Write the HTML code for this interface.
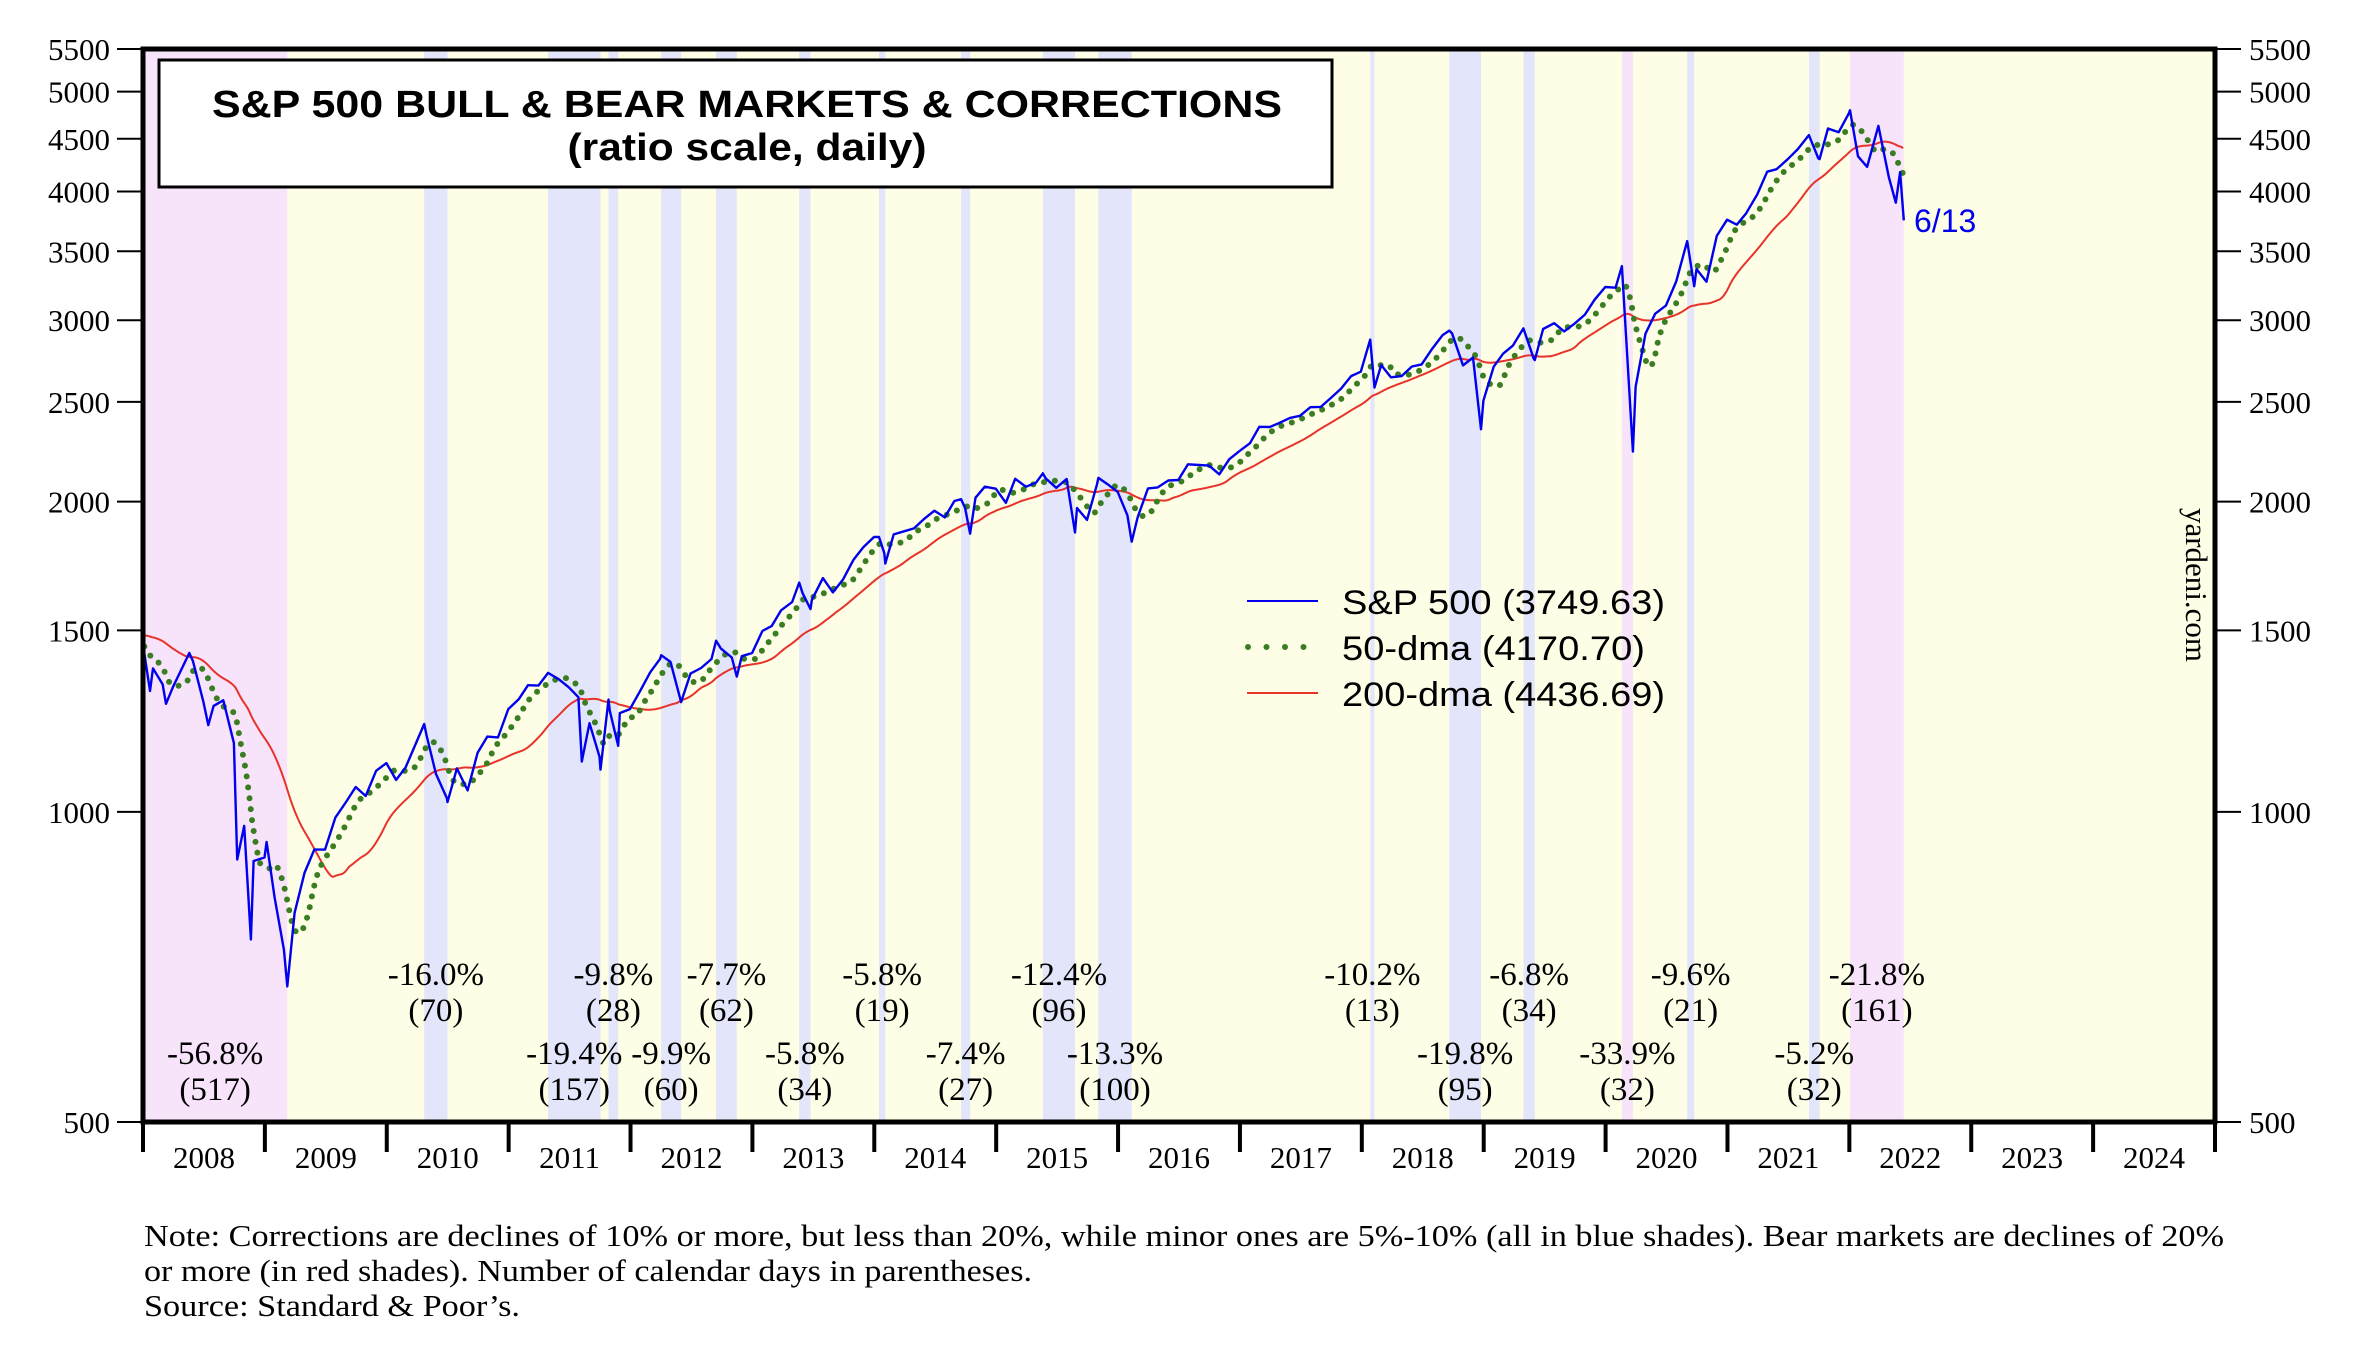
<!DOCTYPE html>
<html><head><meta charset="utf-8"><title>S&amp;P 500 Bull &amp; Bear Markets &amp; Corrections</title>
<style>
html,body{margin:0;padding:0;background:#fff;}
svg{display:block;}
.tk{font-family:"Liberation Serif",serif;font-size:31px;fill:#000;}
.an{font-family:"Liberation Serif",serif;font-size:33px;fill:#000;text-anchor:middle;}
.lg{font-family:"Liberation Sans",sans-serif;font-size:34px;fill:#000;}
</style></head>
<body>
<svg id="chart" width="2362" height="1362" viewBox="0 0 2362 1362" xmlns="http://www.w3.org/2000/svg">
  <g id="bands"></g>
  <g id="series"></g>
  <g id="annos"></g>
  <rect x="143" y="49" width="2072" height="1073" fill="none" stroke="#000" stroke-width="5"/>
  <g id="axes"></g>

  <g>
    <rect x="159" y="60" width="1173" height="127" fill="#fff" stroke="#000" stroke-width="3"/>
    <text x="747" y="117" text-anchor="middle" font-family="Liberation Sans, sans-serif" font-weight="bold" font-size="38" textLength="1070" lengthAdjust="spacingAndGlyphs">S&amp;P 500 BULL &amp; BEAR MARKETS &amp; CORRECTIONS</text>
    <text x="747" y="160" text-anchor="middle" font-family="Liberation Sans, sans-serif" font-weight="bold" font-size="38" textLength="359" lengthAdjust="spacingAndGlyphs">(ratio scale, daily)</text>
  </g>

  <g>
    <g>
      <line x1="1247" y1="601" x2="1318" y2="601" stroke="#0000ee" stroke-width="2"/>
      <text class="lg" x="1342" y="614" textLength="323" lengthAdjust="spacingAndGlyphs">S&amp;P 500 (3749.63)</text>
    </g>
    <g>
      <line x1="1248" y1="647" x2="1318" y2="647" stroke="#3a7d22" stroke-width="6" stroke-linecap="round" stroke-dasharray="0 18.5"/>
      <text class="lg" x="1342" y="660" textLength="303" lengthAdjust="spacingAndGlyphs">50-dma (4170.70)</text>
    </g>
    <g>
      <line x1="1247" y1="693" x2="1318" y2="693" stroke="#e8332a" stroke-width="2"/>
      <text class="lg" x="1342" y="706" textLength="323" lengthAdjust="spacingAndGlyphs">200-dma (4436.69)</text>
    </g>
  </g>

  <text x="1914" y="232" font-family="Liberation Sans, sans-serif" font-size="32" fill="#0000ee">6/13</text>
  <text transform="translate(2186,585) rotate(90)" text-anchor="middle" font-family="Liberation Serif, serif" font-size="31" fill="#000">yardeni.com</text>

  <g font-family="Liberation Serif, serif" font-size="31" fill="#000">
    <text x="144" y="1246" textLength="2080" lengthAdjust="spacingAndGlyphs">Note: Corrections are declines of 10% or more, but less than 20%, while minor ones are 5%-10% (all in blue shades). Bear markets are declines of 20%</text>
    <text x="144" y="1281" textLength="888" lengthAdjust="spacingAndGlyphs">or more (in red shades). Number of calendar days in parentheses.</text>
    <text x="144" y="1316" textLength="376" lengthAdjust="spacingAndGlyphs">Source: Standard &amp; Poor’s.</text>
  </g>
</svg>
<script>
// ---- data ----
const priceDates = ["2007-01-01","2007-03-05","2007-05-31","2007-07-16","2007-08-15","2007-10-09","2007-11-26","2007-12-31",
"2008-01-02","2008-01-22","2008-01-31","2008-02-29","2008-03-10","2008-03-31","2008-04-30","2008-05-19","2008-05-30","2008-06-30","2008-07-15","2008-07-31","2008-08-29","2008-09-30","2008-10-10","2008-10-31","2008-11-20","2008-11-28","2008-12-31",
"2009-01-06","2009-01-30","2009-02-27","2009-03-09","2009-03-31","2009-04-30","2009-05-29","2009-06-30","2009-07-31","2009-08-31","2009-09-30","2009-10-30","2009-11-30","2009-12-31",
"2010-01-29","2010-02-26","2010-03-31","2010-04-23","2010-04-30","2010-05-28","2010-06-30","2010-07-02","2010-07-30","2010-08-31","2010-09-30","2010-10-29","2010-11-30","2010-12-31",
"2011-01-31","2011-02-28","2011-03-31","2011-04-29","2011-05-31","2011-06-30","2011-07-29","2011-08-08","2011-08-31","2011-09-30","2011-10-03","2011-10-27","2011-10-31","2011-11-25","2011-11-30","2011-12-30",
"2012-01-31","2012-02-29","2012-03-30","2012-04-02","2012-04-30","2012-06-01","2012-06-29","2012-07-31","2012-08-31","2012-09-14","2012-09-28","2012-10-31","2012-11-15","2012-11-30","2012-12-31",
"2013-01-31","2013-02-28","2013-03-28","2013-04-30","2013-05-21","2013-05-31","2013-06-24","2013-06-28","2013-07-31","2013-08-30","2013-09-30","2013-10-31","2013-11-29","2013-12-31",
"2014-01-15","2014-01-31","2014-02-03","2014-02-28","2014-03-31","2014-04-30","2014-05-30","2014-06-30","2014-07-31","2014-08-29","2014-09-18","2014-09-30","2014-10-15","2014-10-31","2014-11-28","2014-12-31",
"2015-01-30","2015-02-27","2015-03-31","2015-04-30","2015-05-21","2015-05-29","2015-06-30","2015-07-31","2015-08-25","2015-08-31","2015-09-30","2015-10-30","2015-11-03","2015-11-30","2015-12-31",
"2016-01-29","2016-02-11","2016-02-29","2016-03-31","2016-04-29","2016-05-31","2016-06-30","2016-07-29","2016-08-31","2016-09-30","2016-10-31","2016-11-30","2016-12-30",
"2017-01-31","2017-02-28","2017-03-31","2017-04-28","2017-05-31","2017-06-30","2017-07-31","2017-08-31","2017-09-29","2017-10-31","2017-11-30","2017-12-29",
"2018-01-26","2018-02-08","2018-02-28","2018-03-29","2018-04-30","2018-05-31","2018-06-29","2018-07-31","2018-08-31","2018-09-20","2018-09-28","2018-10-31","2018-11-30","2018-12-24","2018-12-31",
"2019-01-31","2019-02-28","2019-03-29","2019-04-30","2019-05-31","2019-06-03","2019-06-28","2019-07-31","2019-08-30","2019-09-30","2019-10-31","2019-11-29","2019-12-31",
"2020-01-31","2020-02-19","2020-03-23","2020-03-31","2020-04-30","2020-05-29","2020-06-30","2020-07-31","2020-09-02","2020-09-23","2020-09-30","2020-10-30","2020-11-30","2020-12-31",
"2021-01-29","2021-02-26","2021-03-31","2021-04-30","2021-05-28","2021-06-30","2021-07-30","2021-09-02","2021-09-30","2021-10-04","2021-10-29","2021-11-30","2021-12-31",
"2022-01-03","2022-01-27","2022-02-23","2022-03-29","2022-04-29","2022-05-20","2022-06-02","2022-06-13"];
const priceValues = [1418,1374,1530,1553,1406,1565,1407,1468,
1447,1310,1378,1330,1273,1322,1385,1426,1400,1280,1214,1267,1283,1166,899,969,752,896,903,
935,826,735,677,798,873,919,919,987,1021,1057,1036,1096,1115,
1074,1104,1169,1217,1187,1089,1031,1022,1102,1049,1141,1183,1181,1258,
1286,1327,1326,1364,1345,1321,1292,1119,1219,1131,1099,1285,1253,1159,1247,1258,
1312,1366,1408,1419,1398,1278,1362,1379,1407,1466,1441,1412,1353,1416,1426,
1498,1515,1569,1598,1669,1631,1573,1606,1686,1633,1682,1757,1806,1848,
1848,1783,1742,1859,1872,1884,1924,1960,1931,2003,2011,1972,1862,2018,2068,2059,
1995,2105,2068,2086,2131,2107,2063,2104,1867,1972,1920,2079,2109,2080,2044,
1940,1829,1932,2060,2065,2097,2099,2174,2171,2168,2126,2199,2239,
2279,2364,2363,2384,2412,2423,2470,2472,2519,2575,2648,2674,
2873,2581,2714,2641,2648,2705,2718,2816,2902,2931,2914,2712,2760,2351,2507,
2704,2784,2834,2946,2752,2744,2942,2980,2926,2977,3038,3141,3231,
3226,3386,2237,2585,2912,3044,3100,3271,3580,3237,3363,3270,3622,3756,
3714,3811,3973,4181,4204,4298,4395,4537,4308,4300,4605,4567,4766,
4797,4327,4226,4632,4132,3901,4176,3750];

const bandStarts = ["2007-10-09","2010-04-23","2011-04-29","2011-10-27","2012-04-02","2012-09-14","2013-05-21","2014-01-15","2014-09-18","2015-05-21","2015-11-03","2018-01-26","2018-09-20","2019-04-30","2020-02-19","2020-09-02","2021-09-02","2022-01-03"];
const bandEnds   = ["2009-03-09","2010-07-02","2011-10-03","2011-11-25","2012-06-01","2012-11-15","2013-06-24","2014-02-03","2014-10-15","2015-08-25","2016-02-11","2018-02-08","2018-12-24","2019-06-03","2020-03-23","2020-09-23","2021-10-04","2022-06-13"];
const bandKinds  = ["bear","corr","corr","corr","corr","corr","corr","corr","corr","corr","corr","corr","corr","corr","bear","corr","corr","bear"];
const declinePct = ["-56.8%","-16.0%","-19.4%","-9.8%","-9.9%","-7.7%","-5.8%","-5.8%","-7.4%","-12.4%","-13.3%","-10.2%","-19.8%","-6.8%","-33.9%","-9.6%","-5.2%","-21.8%"];
const declineDays = ["(517)","(70)","(157)","(28)","(60)","(62)","(34)","(19)","(27)","(96)","(100)","(13)","(95)","(34)","(32)","(21)","(32)","(161)"];
const labelRow   = [1,0,1,0,1,0,1,0,1,0,1,0,1,0,1,0,1,0];

const yTicks = [500,1000,1500,2000,2500,3000,3500,4000,4500,5000,5500];
const xYears = [2008,2009,2010,2011,2012,2013,2014,2015,2016,2017,2018,2019,2020,2021,2022,2023,2024];

// ---- scales ----
const PL=143, PR=2215, PT=49, PB=1122, YMAX=5500, YMIN=500;
const YPX=(PB-PT)/Math.log(YMAX/YMIN);
function toYear(s){const d=new Date(s+"T00:00:00Z");const y=d.getUTCFullYear();const st=Date.UTC(y,0,1),en=Date.UTC(y+1,0,1);return y+(d-st)/(en-st);}
function xScale(yr){return PL+(yr-2008)*(PR-PL)/17;}
function yScale(v){return PT+Math.log(YMAX/v)*YPX;}
const NS="http://www.w3.org/2000/svg";
function mk(tag,attrs,parent){const e=document.createElementNS(NS,tag);for(const k in attrs)e.setAttribute(k,attrs[k]);parent.appendChild(e);return e;}

const defs=mk("defs",{},document.getElementById("chart"));
const cp=mk("clipPath",{id:"plotclip"},defs);
mk("rect",{x:PL,y:PT,width:PR-PL,height:PB-PT},cp);

const bands=document.getElementById("bands");
const bgEl=mk("rect",{x:PL,y:PT,width:PR-PL,height:PB-PT,fill:"#fefee6"},bands);


for(let i=0;i<bandStarts.length;i++){
  const x1=Math.max(PL,xScale(toYear(bandStarts[i]))), x2=xScale(toYear(bandEnds[i]));
  const r=mk("rect",{x:x1,y:PT,width:Math.max(2,x2-x1),height:PB-PT,fill:bandKinds[i]==="bear"?"#f7e4fa":"#e3e5fa"},bands);
  
  
}

const t=priceDates.map(toYear);
const series=document.getElementById("series");
series.setAttribute("clip-path","url(#plotclip)");
const daily=[];
const t0=t[0], tEnd=t[t.length-1];
for(let d=0;;d++){const yr=t0+d/365.25;if(yr>tEnd)break;
  let j=0;while(j<t.length-2&&t[j+1]<yr)j++;
  const f=(yr-t[j])/(t[j+1]-t[j]);daily.push([yr,priceValues[j]+(priceValues[j+1]-priceValues[j])*Math.max(0,Math.min(1,f))]);}
function ma(n){const out=[];let s=0;for(let i=0;i<daily.length;i++){s+=daily[i][1];if(i>=n)s-=daily[i-n][1];if(i>=n-1&&daily[i][0]>=2007.95&&i%2===0)out.push([daily[i][0],s/n]);}return out;}
const ma200=ma(290), ma50=ma(72);
function pts(arr){return arr.map(p=>xScale(p[0]).toFixed(1)+","+yScale(p[1]).toFixed(1)).join(" ");}
const l200=mk("polyline",{points:pts(ma200),fill:"none",stroke:"#e8332a","stroke-width":2},series);


const l50=mk("polyline",{points:pts(ma50),fill:"none",stroke:"#3a7d22","stroke-width":6,"stroke-linecap":"round","stroke-dasharray":"0 11"},series);


const lsp=mk("polyline",{points:pts(t.map((y,i)=>[y,priceValues[i]])),fill:"none",stroke:"#0000ee","stroke-width":2.4,"stroke-linejoin":"round"},series);



const annos=document.getElementById("annos");
const rowY=[[985,1021],[1064,1100]];
for(let i=0;i<declinePct.length;i++){
  const x1=Math.max(PL,xScale(toYear(bandStarts[i]))), x2=xScale(toYear(bandEnds[i]));
  let cx=(x1+x2)/2;
  const g=mk("g",{},annos);
  
  
  const a=mk("text",{class:"an",x:cx,y:rowY[labelRow[i]][0]},g);a.textContent=declinePct[i];
  const b=mk("text",{class:"an",x:cx,y:rowY[labelRow[i]][1]},g);b.textContent=declineDays[i];
}

const axes=document.getElementById("axes");
for(const v of yTicks){
  const y=yScale(v);
  const tl=mk("line",{x1:117,y1:y,x2:PL,y2:y,stroke:"#000","stroke-width":2},axes);
  
  
  const lt=mk("text",{class:"tk",x:110,y:y+11,"text-anchor":"end"},axes);lt.textContent=v;
  
  
  const tr=mk("line",{x1:PR,y1:y,x2:2241,y2:y,stroke:"#000","stroke-width":2},axes);
  
  
  const rt=mk("text",{class:"tk",x:2249,y:y+11},axes);rt.textContent=v;
  
  
}
for(let i=0;i<=xYears.length;i++){
  const x=xScale(2008+i);
  const tk=mk("line",{x1:x,y1:PB,x2:x,y2:1152,stroke:"#000","stroke-width":4},axes);
  
  
}
for(const yr of xYears){
  const lab=mk("text",{class:"tk",x:xScale(yr+0.5),y:1168,"text-anchor":"middle"},axes);lab.textContent=yr;
  
  
}
</script>
</body></html>
